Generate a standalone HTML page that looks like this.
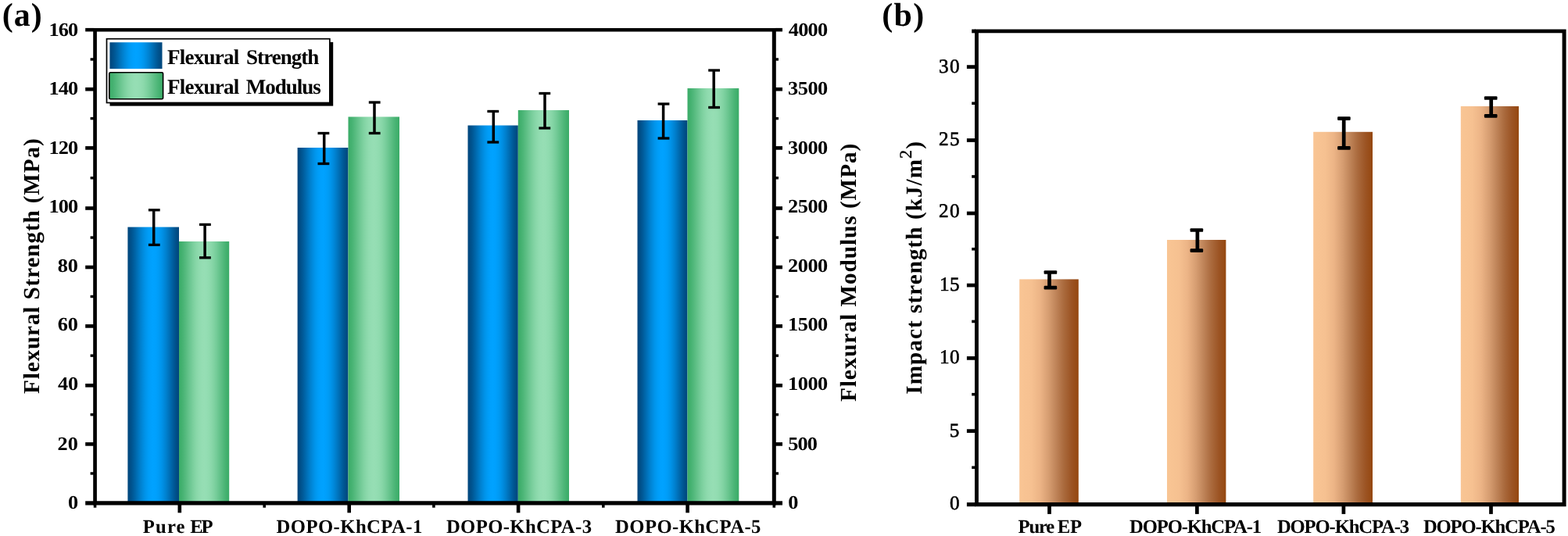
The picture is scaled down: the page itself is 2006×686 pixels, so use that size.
<!DOCTYPE html>
<html lang="en">
<head>
<meta charset="utf-8">
<title>Flexural and impact strength</title>
<style>
html,body{margin:0;padding:0;background:#fff;}
body{width:2006px;height:686px;overflow:hidden;}
svg{display:block;font-family:'Liberation Serif', 'Times New Roman', serif;fill:#000;text-rendering:geometricPrecision;}
</style>
</head>
<body>
<svg width="2006" height="686" viewBox="0 0 2006 686" role="img" aria-label="Bar charts of flexural strength, flexural modulus and impact strength">
<defs>
<linearGradient id="gb" x1="0" x2="1" y1="0" y2="0"><stop offset="0" stop-color="#00467C"/><stop offset="0.05" stop-color="#004E87"/><stop offset="0.1" stop-color="#005997"/><stop offset="0.15" stop-color="#0066A9"/><stop offset="0.2" stop-color="#0073BC"/><stop offset="0.25" stop-color="#0080CE"/><stop offset="0.3" stop-color="#008BDE"/><stop offset="0.35" stop-color="#0095EC"/><stop offset="0.4" stop-color="#009CF6"/><stop offset="0.45" stop-color="#00A0FD"/><stop offset="0.5" stop-color="#00A2FF"/><stop offset="0.55" stop-color="#00A0FD"/><stop offset="0.6" stop-color="#009CF6"/><stop offset="0.65" stop-color="#0095EC"/><stop offset="0.7" stop-color="#008BDE"/><stop offset="0.75" stop-color="#0080CE"/><stop offset="0.8" stop-color="#0073BC"/><stop offset="0.85" stop-color="#0066A9"/><stop offset="0.9" stop-color="#005997"/><stop offset="0.95" stop-color="#004E87"/><stop offset="1" stop-color="#00467C"/></linearGradient>
<linearGradient id="gg" x1="0" x2="1" y1="0" y2="0"><stop offset="0" stop-color="#3AAC68"/><stop offset="0.05" stop-color="#42B06E"/><stop offset="0.1" stop-color="#4DB678"/><stop offset="0.15" stop-color="#5ABD82"/><stop offset="0.2" stop-color="#67C48D"/><stop offset="0.25" stop-color="#74CB98"/><stop offset="0.3" stop-color="#7FD2A1"/><stop offset="0.35" stop-color="#89D7A9"/><stop offset="0.4" stop-color="#90DBAF"/><stop offset="0.45" stop-color="#94DDB3"/><stop offset="0.5" stop-color="#96DEB4"/><stop offset="0.55" stop-color="#94DDB3"/><stop offset="0.6" stop-color="#90DBAF"/><stop offset="0.65" stop-color="#89D7A9"/><stop offset="0.7" stop-color="#7FD2A1"/><stop offset="0.75" stop-color="#74CB98"/><stop offset="0.8" stop-color="#67C48D"/><stop offset="0.85" stop-color="#5ABD82"/><stop offset="0.9" stop-color="#4DB678"/><stop offset="0.95" stop-color="#42B06E"/><stop offset="1" stop-color="#3AAC68"/></linearGradient>
<linearGradient id="go" x1="0" x2="1" y1="0" y2="0"><stop offset="0" stop-color="#F9C594"/><stop offset="0.2" stop-color="#F6C191"/><stop offset="0.35" stop-color="#ECB486"/><stop offset="0.5" stop-color="#D59C70"/><stop offset="0.62" stop-color="#BF8459"/><stop offset="0.75" stop-color="#AA6A3D"/><stop offset="0.88" stop-color="#9C5424"/><stop offset="1" stop-color="#95470F"/></linearGradient>
</defs>
<rect x="163.4" y="290.6" width="65.6" height="353.3" fill="url(#gb)" />
<rect x="229" y="309" width="64.2" height="334.9" fill="url(#gg)" />
<rect x="380.6" y="189" width="64.9" height="454.9" fill="url(#gb)" />
<rect x="445.5" y="149.5" width="65.5" height="494.4" fill="url(#gg)" />
<rect x="598.5" y="160.5" width="64.3" height="483.4" fill="url(#gb)" />
<rect x="662.8" y="141" width="65.2" height="502.9" fill="url(#gg)" />
<rect x="815.5" y="154" width="64" height="489.9" fill="url(#gb)" />
<rect x="879.5" y="113" width="65.8" height="530.9" fill="url(#gg)" />
<rect x="194.95" y="268.8" width="3.5" height="44.6" fill="#000" />
<rect x="189.9" y="267.15" width="14.8" height="3.3" fill="#000" />
<rect x="189.9" y="311.75" width="14.8" height="3.3" fill="#000" />
<rect x="260.35" y="287.4" width="3.5" height="42.4" fill="#000" />
<rect x="255" y="285.75" width="14.8" height="3.3" fill="#000" />
<rect x="255" y="328.15" width="14.8" height="3.3" fill="#000" />
<rect x="412.95" y="170.5" width="3.5" height="39" fill="#000" />
<rect x="406.5" y="168.85" width="14.8" height="3.3" fill="#000" />
<rect x="406.5" y="207.85" width="14.8" height="3.3" fill="#000" />
<rect x="477.25" y="131" width="3.5" height="39.5" fill="#000" />
<rect x="471.8" y="129.35" width="14.8" height="3.3" fill="#000" />
<rect x="471.8" y="168.85" width="14.8" height="3.3" fill="#000" />
<rect x="629.55" y="142.5" width="3.5" height="39.5" fill="#000" />
<rect x="623.4" y="140.85" width="14.8" height="3.3" fill="#000" />
<rect x="623.4" y="180.35" width="14.8" height="3.3" fill="#000" />
<rect x="695.25" y="119.5" width="3.5" height="44.5" fill="#000" />
<rect x="689.4" y="117.85" width="14.8" height="3.3" fill="#000" />
<rect x="689.4" y="162.35" width="14.8" height="3.3" fill="#000" />
<rect x="846.85" y="133" width="3.5" height="44" fill="#000" />
<rect x="841.6" y="131.35" width="14.8" height="3.3" fill="#000" />
<rect x="841.6" y="175.35" width="14.8" height="3.3" fill="#000" />
<rect x="911.45" y="90" width="3.5" height="47.5" fill="#000" />
<rect x="906.2" y="88.35" width="14.8" height="3.3" fill="#000" />
<rect x="906.2" y="135.85" width="14.8" height="3.3" fill="#000" />
<path fill="#000" fill-rule="evenodd" d="M119.2 35.9H992.8V646.5H119.2ZM123.9 40.4H987.8V641.3H123.9Z"/>
<rect x="109.2" y="641.3" width="11" height="5.2" fill="#000" />
<rect x="991.8" y="641.3" width="9.2" height="5.2" fill="#000" />
<text transform="translate(87,650.95) scale(1.08,1)" font-size="24.4" font-weight="bold" letter-spacing="0" >0</text>
<text transform="translate(1008.3,650.95) scale(1.08,1)" font-size="24.4" font-weight="bold" letter-spacing="0" >0</text>
<rect x="115.6" y="604.25" width="4.6" height="3.4" fill="#000" />
<rect x="991.8" y="604.25" width="4.2" height="3.4" fill="#000" />
<rect x="109.2" y="566.1" width="11" height="4.6" fill="#000" />
<rect x="991.8" y="566.1" width="9.2" height="4.6" fill="#000" />
<text transform="translate(73.5,575.75) scale(1.08,1)" font-size="24.4" font-weight="bold" letter-spacing="0.18" >20</text>
<text transform="translate(1008.25,575.75) scale(1.08,1)" font-size="24.4" font-weight="bold" letter-spacing="-0.81" >500</text>
<rect x="115.6" y="528.95" width="4.6" height="3.4" fill="#000" />
<rect x="991.8" y="528.95" width="4.2" height="3.4" fill="#000" />
<rect x="109.2" y="491" width="11" height="4.6" fill="#000" />
<rect x="991.8" y="491" width="9.2" height="4.6" fill="#000" />
<text transform="translate(74.1,498.75) scale(1.08,1)" font-size="24.4" font-weight="bold" letter-spacing="-0.36" >40</text>
<text transform="translate(1008.1,498.75) scale(1.08,1)" font-size="24.4" font-weight="bold" letter-spacing="-0.48" >1000</text>
<rect x="115.6" y="453.45" width="4.6" height="3.4" fill="#000" />
<rect x="991.8" y="453.45" width="4.2" height="3.4" fill="#000" />
<rect x="109.2" y="415.1" width="11" height="4.6" fill="#000" />
<rect x="991.8" y="415.1" width="9.2" height="4.6" fill="#000" />
<text transform="translate(73.7,422.95) scale(1.08,1)" font-size="24.4" font-weight="bold" letter-spacing="-0" >60</text>
<text transform="translate(1008.1,422.95) scale(1.08,1)" font-size="24.4" font-weight="bold" letter-spacing="-0.48" >1500</text>
<rect x="115.6" y="377.8" width="4.6" height="3.4" fill="#000" />
<rect x="991.8" y="377.8" width="4.2" height="3.4" fill="#000" />
<rect x="109.2" y="339.7" width="11" height="4.6" fill="#000" />
<rect x="991.8" y="339.7" width="9.2" height="4.6" fill="#000" />
<text transform="translate(73.7,347.75) scale(1.08,1)" font-size="24.4" font-weight="bold" letter-spacing="-0" >80</text>
<text transform="translate(1008.1,347.75) scale(1.08,1)" font-size="24.4" font-weight="bold" letter-spacing="-0.48" >2000</text>
<rect x="115.6" y="302.35" width="4.6" height="3.4" fill="#000" />
<rect x="991.8" y="302.35" width="4.2" height="3.4" fill="#000" />
<rect x="109.2" y="264.2" width="11" height="4.6" fill="#000" />
<rect x="991.8" y="264.2" width="9.2" height="4.6" fill="#000" />
<text transform="translate(62.4,272.05) scale(1.08,1)" font-size="24.4" font-weight="bold" letter-spacing="-0.86" >100</text>
<text transform="translate(1008.1,272.05) scale(1.08,1)" font-size="24.4" font-weight="bold" letter-spacing="-0.48" >2500</text>
<rect x="115.6" y="226.05" width="4.6" height="3.4" fill="#000" />
<rect x="991.8" y="226.05" width="4.2" height="3.4" fill="#000" />
<rect x="109.2" y="187.1" width="11" height="4.6" fill="#000" />
<rect x="991.8" y="187.1" width="9.2" height="4.6" fill="#000" />
<text transform="translate(62.4,196.55) scale(1.08,1)" font-size="24.4" font-weight="bold" letter-spacing="-0.86" >120</text>
<text transform="translate(1008.1,196.55) scale(1.08,1)" font-size="24.4" font-weight="bold" letter-spacing="-0.48" >3000</text>
<rect x="115.6" y="149.9" width="4.6" height="3.4" fill="#000" />
<rect x="991.8" y="149.9" width="4.2" height="3.4" fill="#000" />
<rect x="109.2" y="111.9" width="11" height="4.6" fill="#000" />
<rect x="991.8" y="111.9" width="9.2" height="4.6" fill="#000" />
<text transform="translate(62.4,120.75) scale(1.08,1)" font-size="24.4" font-weight="bold" letter-spacing="-0.86" >140</text>
<text transform="translate(1008.1,120.75) scale(1.08,1)" font-size="24.4" font-weight="bold" letter-spacing="-0.48" >3500</text>
<rect x="115.6" y="74.25" width="4.6" height="3.4" fill="#000" />
<rect x="991.8" y="74.25" width="4.2" height="3.4" fill="#000" />
<rect x="109.2" y="35.9" width="11" height="4.5" fill="#000" />
<rect x="991.8" y="35.9" width="9.2" height="4.5" fill="#000" />
<text transform="translate(62.4,45.65) scale(1.08,1)" font-size="24.4" font-weight="bold" letter-spacing="-0.86" >160</text>
<text transform="translate(1008.7,45.65) scale(1.08,1)" font-size="24.4" font-weight="bold" letter-spacing="-0.67" >4000</text>
<rect x="227.5" y="645.5" width="4.6" height="10.8" fill="#000" />
<text y="682.3" font-size="24.7" font-weight="bold" ><tspan x="182.7" letter-spacing="1.2">Pure </tspan><tspan x="243.35" letter-spacing="-2.3">EP</tspan></text>
<rect x="444.4" y="645.5" width="4.6" height="10.8" fill="#000" />
<text x="353.5" y="682.3" font-size="24.7" font-weight="bold" letter-spacing="0.44" >DOPO-KhCPA-1</text>
<rect x="660.8" y="645.5" width="4.6" height="10.8" fill="#000" />
<text x="570.9" y="682.3" font-size="24.7" font-weight="bold" letter-spacing="0.38" >DOPO-KhCPA-3</text>
<rect x="877.3" y="645.5" width="4.6" height="10.8" fill="#000" />
<text x="787.1" y="682.3" font-size="24.7" font-weight="bold" letter-spacing="0.4" >DOPO-KhCPA-5</text>
<rect x="119.75" y="645.5" width="3.6" height="4.2" fill="#000" />
<rect x="336.4" y="645.5" width="3.6" height="4.2" fill="#000" />
<rect x="553.1" y="645.5" width="3.6" height="4.2" fill="#000" />
<rect x="770" y="645.5" width="3.6" height="4.2" fill="#000" />
<rect x="988.5" y="645.5" width="3.6" height="4.2" fill="#000" />
<rect x="140.5" y="53.9" width="285.7" height="81.7" fill="#000" />
<rect x="136.5" y="49.7" width="285.35" height="81.8" fill="#fff" stroke="#000" stroke-width="1.7"/>
<rect x="140.4" y="54.2" width="67.1" height="33.8" fill="url(#gb)" />
<rect x="139.8" y="92.8" width="68.8" height="33.9" fill="url(#gg)" stroke="#000" stroke-width="1.6" rx="1.5"/>
<text y="81.7" font-size="27" font-weight="bold" ><tspan x="214.05" letter-spacing="-0.76">Flexural </tspan><tspan x="315.05" letter-spacing="-0.96">Strength</tspan></text>
<text y="119.6" font-size="27" font-weight="bold" ><tspan x="214.05" letter-spacing="-0.76">Flexural </tspan><tspan x="314.75" letter-spacing="-1.02">Modulus</tspan></text>
<text transform="translate(50,503.6) rotate(-90)" x="-0.4" y="0" font-size="29.2" font-weight="bold" letter-spacing="0.87" >Flexural Strength (MPa)</text>
<text transform="translate(1095,513.6) rotate(-90)" x="-0.45" y="0" font-size="29.2" font-weight="bold" letter-spacing="0.98" >Flexural Modulus (MPa)</text>
<text x="2.7" y="33.4" font-size="42" font-weight="bold" letter-spacing="1.1" >(a)</text>
<rect x="1304.2" y="357.4" width="75.6" height="288.25" fill="url(#go)" />
<rect x="1493" y="307" width="75.4" height="338.65" fill="url(#go)" />
<rect x="1680.2" y="168.8" width="75.8" height="476.85" fill="url(#go)" />
<rect x="1868.8" y="136" width="74.2" height="509.65" fill="url(#go)" />
<rect x="1340.15" y="348.5" width="4.7" height="19.7" fill="#000" />
<rect x="1335.6" y="346.15" width="16.6" height="4.7" fill="#000" rx="1.2"/>
<rect x="1335.6" y="365.85" width="16.6" height="4.7" fill="#000" rx="1.2"/>
<rect x="1529.55" y="294.5" width="4.7" height="26.2" fill="#000" />
<rect x="1522.6" y="292.15" width="16.6" height="4.7" fill="#000" rx="1.2"/>
<rect x="1522.6" y="318.35" width="16.6" height="4.7" fill="#000" rx="1.2"/>
<rect x="1716.85" y="151.6" width="4.7" height="37.7" fill="#000" />
<rect x="1711.1" y="149.25" width="16.6" height="4.7" fill="#000" rx="1.2"/>
<rect x="1711.1" y="186.95" width="16.6" height="4.7" fill="#000" rx="1.2"/>
<rect x="1905.35" y="125.5" width="4.7" height="22.9" fill="#000" />
<rect x="1898.9" y="123.15" width="16.6" height="4.7" fill="#000" rx="1.2"/>
<rect x="1898.9" y="146.05" width="16.6" height="4.7" fill="#000" rx="1.2"/>
<path fill="#000" fill-rule="evenodd" d="M1247 37.5H2003.6V648.2H1247ZM1251.9 42.3H1998.6V643.1H1251.9Z"/>
<rect x="1243.2" y="37.5" width="4.8" height="4.8" fill="#000" />
<rect x="1236.9" y="643.1" width="11.1" height="5.1" fill="#000" />
<text x="1215.05" y="652.15" font-size="25.2" font-weight="normal" letter-spacing="0" stroke="#000" stroke-width="0.6">0</text>
<rect x="1243.2" y="596.5" width="4.8" height="3.6" fill="#000" />
<rect x="1236.9" y="549.25" width="11.1" height="4.7" fill="#000" />
<text x="1214.75" y="558.75" font-size="25.2" font-weight="normal" letter-spacing="0" stroke="#000" stroke-width="0.6">5</text>
<rect x="1243.2" y="502.9" width="4.8" height="3.6" fill="#000" />
<rect x="1236.9" y="456.05" width="11.1" height="4.7" fill="#000" />
<text x="1202.05" y="465.25" font-size="25.2" font-weight="normal" letter-spacing="0.3" stroke="#000" stroke-width="0.6">10</text>
<rect x="1243.2" y="409.65" width="4.8" height="3.6" fill="#000" />
<rect x="1236.9" y="362.75" width="11.1" height="4.7" fill="#000" />
<text x="1202.05" y="371.95" font-size="25.2" font-weight="normal" letter-spacing="0.3" stroke="#000" stroke-width="0.6">15</text>
<rect x="1243.2" y="316.95" width="4.8" height="3.6" fill="#000" />
<rect x="1236.9" y="270.65" width="11.1" height="4.7" fill="#000" />
<text x="1201.1" y="278.05" font-size="25.2" font-weight="normal" letter-spacing="1.2" stroke="#000" stroke-width="0.6">20</text>
<rect x="1243.2" y="224.15" width="4.8" height="3.6" fill="#000" />
<rect x="1236.9" y="177.15" width="11.1" height="4.7" fill="#000" />
<text x="1201.1" y="186.15" font-size="25.2" font-weight="normal" letter-spacing="1.2" stroke="#000" stroke-width="0.6">25</text>
<rect x="1243.2" y="130.45" width="4.8" height="3.6" fill="#000" />
<rect x="1236.9" y="83.25" width="11.1" height="4.7" fill="#000" />
<text x="1201.1" y="92.75" font-size="25.2" font-weight="normal" letter-spacing="1.2" stroke="#000" stroke-width="0.6">30</text>
<rect x="1340.15" y="647.2" width="4.7" height="10.7" fill="#000" />
<text y="682.3" font-size="24.7" font-weight="bold" ><tspan x="1302.5" letter-spacing="-1.2">Pure </tspan><tspan x="1352.85" letter-spacing="-0.3">EP</tspan></text>
<rect x="1529.05" y="647.2" width="4.7" height="10.7" fill="#000" />
<text x="1445.05" y="682.3" font-size="24.7" font-weight="bold" letter-spacing="-1.17" >DOPO-KhCPA-1</text>
<rect x="1716.55" y="647.2" width="4.7" height="10.7" fill="#000" />
<text x="1633.9" y="682.3" font-size="24.7" font-weight="bold" letter-spacing="-1.16" >DOPO-KhCPA-3</text>
<rect x="1905.15" y="647.2" width="4.7" height="10.7" fill="#000" />
<text x="1820.95" y="682.3" font-size="24.7" font-weight="bold" letter-spacing="-1.19" >DOPO-KhCPA-5</text>
<text transform="translate(1179,503.6) rotate(-90)" x="-1.1" y="0" font-size="29.2" font-weight="bold" letter-spacing="1.04" >Impact strength (kJ/m<tspan font-size="22" font-weight="normal" stroke="#000" stroke-width="0.4" dy="-12.6">2</tspan><tspan dy="12.6">)</tspan></text>
<text x="1128.25" y="33.4" font-size="42" font-weight="bold" letter-spacing="1.35" >(b)</text>
</svg>
</body>
</html>
